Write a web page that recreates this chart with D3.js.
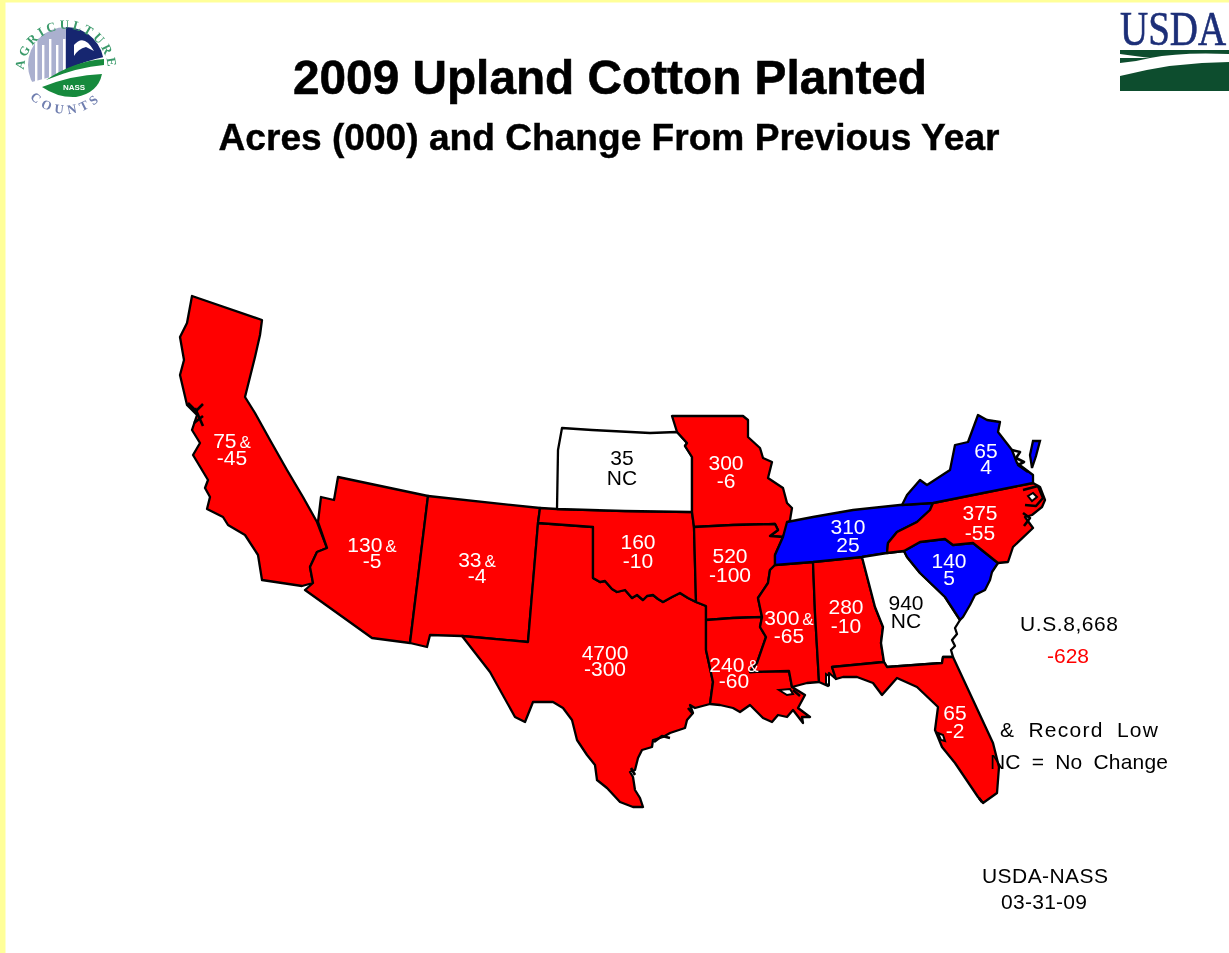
<!DOCTYPE html>
<html>
<head>
<meta charset="utf-8">
<title>2009 Upland Cotton Planted</title>
<script src="https://cdn.jsdelivr.net/npm/d3@7"></script>
<style>
  html, body { margin: 0; padding: 0; background: #fff; }
  svg { display: block; }
  text { font-family: "Liberation Sans", Arial, sans-serif; }
</style>
</head>
<body>
<script>
// Values
const states     = ["CA", "AZ", "NM", "TX", "OK", "KS", "MO", "AR", "LA", "MS", "AL", "TN", "GA", "FL", "SC", "NC", "VA"];
const acres      = [75, 130, 33, 4700, 160, 35, 300, 520, 240, 300, 280, 310, 940, 65, 140, 375, 65];
const changes    = [-45, -5, -4, -300, -10, 0, -6, -100, -60, -65, -10, 25, 0, -2, 5, -55, 4];
const recordLow  = ["CA", "AZ", "NM", "LA", "MS"];
const usTotal    = "U.S.8,668";
const usChange   = "-628";

// Map outlines, traced in map units
const redRiver = [[593,578],[600,582],[605,581],[612,589],[617,592],[625,590],[632,598],[637,595],[643,600],[647,596],[653,595],[658,599],[663,602],[672,597],[680,593],[688,598],[696,602]];
const georgiaCoast = [[960,620],[955,628],[957,634],[952,640],[955,646],[951,650],[953,657]];
const outlines = {
  CA: [[192,296],[262,320],[260,335],[255,357],[250,377],[245,397],[255,413],[270,440],[287,470],[303,497],[317,522],[327,548],[317,552],[310,567],[313,583],[302,586],[262,580],[258,555],[245,535],[228,525],[223,517],[207,509],[210,497],[205,488],[208,480],[193,455],[200,443],[192,430],[197,415],[187,405],[180,375],[184,360],[180,337],[187,323]],
  AZ: [[338,477],[428,496],[410,643],[372,638],[305,590],[313,583],[310,567],[317,552],[327,548],[318,522],[321,497],[334,500]],
  NM: [[428,496],[540,508],[538,523],[528,642],[462,636],[430,635],[427,647],[410,643]],
  TX: [[538,523],[593,527]].concat(redRiver, [[706,606],[706,650],[713,682],[710,704],[695,708],[690,705],[693,713],[687,720],[685,728],[670,733],[663,737],[653,740],[652,747],[642,750],[638,758],[635,770],[630,772],[633,777],[635,790],[640,798],[643,807],[633,807],[620,802],[607,788],[597,780],[595,765],[587,755],[577,740],[572,720],[563,708],[553,702],[533,702],[525,722],[515,717],[490,672],[462,636],[528,642]]),
  OK: [[540,508],[557,509],[625,511],[692,512],[694,527],[696,602]].concat(redRiver.slice().reverse(), [[593,527],[538,523]]),
  KS: [[562,428],[592,430],[650,433],[677,432],[687,443],[685,446],[692,457],[692,512],[625,511],[557,509],[558,450]],
  MO: [[672,416],[743,416],[748,420],[748,437],[760,448],[763,458],[772,462],[768,478],[783,488],[787,503],[792,508],[790,520],[783,537],[770,536],[778,530],[775,524],[733,525],[694,527],[692,512],[692,457],[685,446],[687,443],[677,432]],
  AR: [[694,527],[733,525],[775,524],[778,530],[770,536],[783,537],[775,555],[775,565],[770,570],[768,583],[758,598],[762,617],[733,618],[706,620],[706,606],[696,602]],
  LA: [[706,620],[733,618],[762,617],[760,627],[766,637],[757,663],[750,672],[789,671],[792,687],[805,695],[798,708],[810,717],[802,717],[803,723],[793,710],[787,717],[778,715],[772,722],[763,718],[755,710],[750,705],[740,712],[733,708],[720,705],[710,704],[713,682],[706,650]],
  MS: [[775,565],[813,562],[815,613],[819,682],[807,683],[792,687],[789,671],[750,672],[757,663],[766,637],[760,627],[762,617],[758,598],[768,583],[770,570]],
  AL: [[813,562],[862,557],[875,607],[883,627],[881,643],[884,662],[832,667],[836,679],[829,673],[828,686],[819,682],[815,613]],
  TN: [[787,522],[813,517],[853,510],[900,505],[933,503],[930,510],[917,522],[897,532],[888,543],[887,553],[862,557],[813,562],[775,565],[775,555],[783,537]],
  GA: [[862,557],[887,553],[904,551],[907,557],[920,573],[945,597]].concat(georgiaCoast, [[943,657],[942,663],[887,667],[884,662],[881,643],[883,627],[875,607]]),
  FL: [[832,667],[884,662],[887,667],[942,663],[943,657],[953,657],[973,700],[993,743],[999,767],[997,793],[983,803],[978,797],[955,763],[942,747],[935,730],[938,707],[917,687],[897,678],[882,695],[873,683],[857,677],[843,677],[836,679]],
  SC: [[904,551],[920,542],[945,539],[953,545],[973,543],[998,563],[992,572],[990,580],[985,590],[975,595],[970,605],[963,617],[960,620],[945,597],[920,573],[907,557]],
  NC: [[933,503],[1033,483],[1040,487],[1045,500],[1042,507],[1032,515],[1025,517],[1033,528],[1013,547],[1008,562],[998,563],[973,543],[953,545],[945,539],[920,542],[904,551],[887,553],[888,543],[897,532],[917,522],[930,510]],
  VA: [[902,505],[907,495],[920,480],[927,485],[950,470],[955,445],[968,442],[978,415],[987,420],[1000,422],[998,432],[1012,450],[1017,463],[1033,475],[1033,483],[933,503]]
};
// Bays that the map shows as small white holes
const waterOutlines = [
  [[779,690],[790,689],[793,694],[787,695]],
  [[826,674],[829,676],[829,685],[826,684]],
  [[938,733],[943,735],[945,741],[941,740]],
  [[1028,496],[1033,493],[1037,497],[1032,501]]
];
// Coast scribbles that come out as solid black at this size
const coastMarks = [
  [[188,403],[196,411],[203,404]],
  [[195,408],[203,426]],
  [[203,416],[194,423]],
  [[793,690],[800,696]],
  [[688,708],[693,714]],
  [[654,742],[662,736],[670,738]],
  [[631,768],[635,775]],
  [[1012,450],[1020,452],[1016,458],[1024,462],[1018,465],[1028,472]],
  [[1023,490],[1038,486],[1043,498],[1036,506],[1025,505]],
  [[1023,513],[1030,518],[1024,526]],
  [[979,798],[982,802]]
];
const easternShore = [[1033,441],[1040,441],[1036,456],[1032,468],[1030,455]];

// Label positions in the same map units: centre x, baseline of the two lines
const labelPos = {
  CA: [232,448,465], AZ: [372,552,568], NM: [477,567,583], TX: [605,660,676],
  OK: [638,549,568], KS: [622,465,485], MO: [726,470,488], AR: [730,563,582],
  LA: [734,672,688], MS: [789,625,643], AL: [846,614,633], TN: [848,534,552],
  GA: [906,610,628], FL: [955,720,738], SC: [949,568,585], NC: [980,520,540],
  VA: [986,458,474]
};

const width = 1229, height = 953;
const fillScale = d3.scaleThreshold().domain([0, 1]).range(["#ff0000", "#ffffff", "#0000ff"]);

const svg = d3.select("body").append("svg")
  .attr("width", width)
  .attr("height", height);

const defs = svg.append("defs");
defs.append("filter").attr("id", "soft")
  .attr("filterUnits", "userSpaceOnUse")
  .attr("x", 0).attr("y", 0)
  .attr("width", width).attr("height", height)
  .append("feGaussianBlur").attr("stdDeviation", 0.6);

const page = svg.append("g").attr("filter", "url(#soft)");
page.append("rect").attr("width", width).attr("height", height).attr("fill", "#fff");

// Frame of the old slide
page.append("rect").attr("width", width).attr("height", 2.5).attr("fill", "#ffff99");
page.append("rect").attr("width", 5.5).attr("height", height).attr("fill", "#ffff99");

// Titles
page.append("text").attr("x", 610).attr("y", 94)
  .attr("text-anchor", "middle")
  .attr("textLength", 634)
  .attr("lengthAdjust", "spacingAndGlyphs")
  .attr("stroke", "#000").attr("stroke-width", 0.6)
  .style("font-size", "49px").style("font-weight", "bold")
  .text("2009 Upland Cotton Planted");
page.append("text").attr("x", 609).attr("y", 150)
  .attr("text-anchor", "middle")
  .attr("textLength", 781)
  .attr("lengthAdjust", "spacingAndGlyphs")
  .attr("stroke", "#000").attr("stroke-width", 0.4)
  .style("font-size", "36px").style("font-weight", "bold")
  .text("Acres (000) and Change From Previous Year");

// States
const path = d3.geoPath(d3.geoIdentity());
const ring = pts => ({type: "Polygon", coordinates: [pts.concat([pts[0]])]});
const rows = states.map((s, i) => ({state: s, acres: acres[i], change: changes[i], record: recordLow.includes(s)}));

const map = page.append("g");
map.selectAll("path.state")
  .data(rows)
  .enter().append("path")
  .attr("class", "state")
  .attr("d", d => path(ring(outlines[d.state])))
  .attr("fill", d => fillScale(d.change))
  .attr("stroke", "#000")
  .attr("stroke-width", 2.3)
  .attr("stroke-linejoin", "round");

map.selectAll("path.water")
  .data(waterOutlines)
  .enter().append("path")
  .attr("class", "water")
  .attr("d", d => path(ring(d)))
  .attr("fill", "#fff")
  .attr("stroke", "#000")
  .attr("stroke-width", 2);

map.selectAll("path.mark")
  .data(coastMarks)
  .enter().append("path")
  .attr("class", "mark")
  .attr("d", d => path({type: "LineString", coordinates: d}))
  .attr("fill", "none")
  .attr("stroke", "#000")
  .attr("stroke-width", 2.6)
  .attr("stroke-linejoin", "round");

map.append("path")
  .attr("d", path(ring(easternShore)))
  .attr("fill", "#0000ff")
  .attr("stroke", "#000")
  .attr("stroke-width", 2.3);

// State values, two lines in one text
const labels = page.selectAll("text.label")
  .data(rows)
  .enter().append("text")
  .attr("class", "label")
  .attr("fill", d => d.change === 0 ? "#000" : "#fff")
  .attr("text-anchor", "middle")
  .style("font-size", "21px");
labels.append("tspan")
  .attr("x", d => labelPos[d.state][0])
  .attr("y", d => labelPos[d.state][1])
  .text(d => d.acres);
labels.filter(d => d.record).append("tspan")
  .attr("dx", 3)
  .style("font-size", "17px")
  .text("&");
labels.append("tspan")
  .attr("x", d => labelPos[d.state][0])
  .attr("y", d => labelPos[d.state][2])
  .text(d => d.change === 0 ? "NC" : d.change);

// Notes at the right
const note = (txt, x, y, len, color, wordGap) => page.append("text")
  .attr("x", x).attr("y", y)
  .attr("textLength", len)
  .attr("lengthAdjust", "spacing")
  .attr("fill", color || "#000")
  .style("font-size", "21px")
  .style("word-spacing", (wordGap || 0) + "px")
  .text(txt);
note(usTotal, 1020, 631, 98);
note(usChange, 1047, 663, 42, "#ff0000");
note("& Record Low", 1000, 737, 158, "#000", 6);
note("NC = No Change", 990, 769, 178, "#000", 5);
note("USDA-NASS", 982, 883, 126);
note("03-31-09", 1001, 909, 86);

// NASS logo
defs.append("clipPath").attr("id", "disc").append("circle").attr("r", 38);
const logo = page.append("g").attr("transform", "translate(66,65)");
const disc = logo.append("g").attr("clip-path", "url(#disc)");
disc.append("path").attr("d", "M0,-38 L-38,-38 L-38,18 L0,8 Z").attr("fill", "#aab0cf");
disc.selectAll("rect.bar")
  .data(d3.range(5))
  .enter().append("rect")
  .attr("class", "bar")
  .attr("x", i => -31 + i * 7)
  .attr("y", i => -26 + (i % 2) * 6)
  .attr("width", 2.4)
  .attr("height", 50)
  .attr("fill", "#fff");
disc.append("path").attr("d", "M0,-38 L38,-38 L38,-8 Q18,-4 0,5 Z").attr("fill", "#16256f");
disc.append("path").attr("d", "M8,-9 L8,-20 Q18,-32 28,-14 L20,-18 Q12,-16 8,-9 Z").attr("fill", "#fff");
logo.append("path").attr("d", "M-20,15 Q8,-4 38,-6 L38,0 Q12,2 -20,15 Z").attr("fill", "#178a3e");
logo.append("path").attr("d", "M-24,22 Q6,10 36,9 Q32,28 10,32 Q-8,33 -24,22 Z").attr("fill", "#178a3e");
logo.append("text").attr("x", 8).attr("y", 25).attr("text-anchor", "middle")
  .attr("fill", "#fff").style("font-size", "8px").style("font-weight", "bold").text("NASS");

defs.append("path").attr("id", "arcTop").attr("d", "M-42,6 A42,42 0 0 1 42,6");
defs.append("path").attr("id", "arcBot").attr("d", "M-42,25 A49,49 0 0 0 42,25");
logo.append("text").attr("fill", "#3b9a6b")
  .style("font-size", "13px").style("font-weight", "bold").style("font-family", "'Liberation Serif', serif")
  .append("textPath").attr("href", "#arcTop").attr("startOffset", "50%").attr("text-anchor", "middle")
  .attr("letter-spacing", 3).text("AGRICULTURE");
logo.append("text").attr("fill", "#6f7eaf")
  .style("font-size", "13px").style("font-weight", "bold").style("font-family", "'Liberation Serif', serif")
  .append("textPath").attr("href", "#arcBot").attr("startOffset", "50%").attr("text-anchor", "middle")
  .attr("letter-spacing", 4.5).text("COUNTS");

// USDA logo, running up to the page edge
page.append("text")
  .attr("transform", "translate(1120,45) scale(1,1.25)")
  .attr("fill", "#1c2f78")
  .attr("stroke", "#1c2f78").attr("stroke-width", 0.5)
  .style("font-family", "'Liberation Serif', serif")
  .style("font-size", "39px")
  .text("USDA");
page.append("path").attr("d", "M1120,76 Q1175,62 1229,62 L1229,91 L1120,91 Z").attr("fill", "#0f4d2e");
page.append("path").attr("d", "M1120,50 L1229,50 L1229,54 Q1180,52 1150,58 L1120,54 Z").attr("fill", "#0f4d2e");
page.append("path").attr("d", "M1120,58 L1150,58 Q1135,62 1120,63 Z").attr("fill", "#0f4d2e");
</script>
</body>
</html>
